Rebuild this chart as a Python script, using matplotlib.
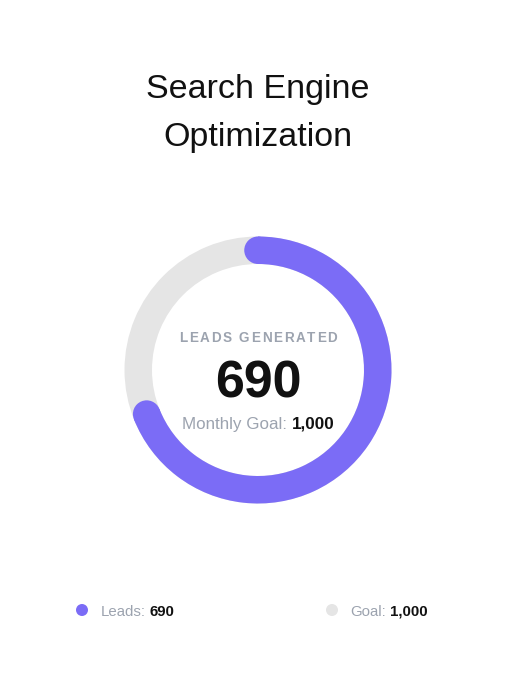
import numpy as np
import matplotlib
matplotlib.use("Agg")
import matplotlib.pyplot as plt
from matplotlib.patches import Wedge, Circle

# ---- data ----
title_lines = ["Search Engine", "Optimization"]
center_label = "LEADS GENERATED"
leads = 690
goal = 1000
legend_labels = ["Leads:", "Goal:"]
legend_values = [leads, goal]

# ---- style ----
PURPLE = "#7B6CF6"
TRACK = "#E5E5E5"
GREY = "#9CA3AF"
BLACK = "#111111"
FONT = "Liberation Sans"

W, H = 516, 686
DPI = 100
fig = plt.figure(figsize=(W / DPI, H / DPI), dpi=DPI)
ax = fig.add_axes([0, 0, 1, 1])
ax.set_xlim(0, W)
ax.set_ylim(0, H)
ax.axis("off")

def Y(y):
    return H - y

def pt(px):
    return px * 72.0 / DPI

renderer = fig.canvas.get_renderer()

def text_width(s, size_px, weight="normal"):
    t = ax.text(0, 0, s, fontsize=pt(size_px), fontweight=weight, family=FONT)
    w = t.get_window_extent(renderer).width
    t.remove()
    return w

def space_width(size_px, weight="normal"):
    return text_width("a a", size_px, weight) - text_width("aa", size_px, weight)

# ---- title ----
for line, base in zip(title_lines, [98, 146]):
    ax.text(W / 2, Y(base), line, ha="center", va="baseline",
            fontsize=pt(34), color=BLACK, family=FONT)

# ---- donut ----
cx, cy = 258, 370
r_out, ring = 133.5, 27.5
ax.add_patch(Wedge((cx, Y(cy)), r_out, 0, 360, width=ring, color=TRACK, lw=0))
sweep = 360.0 * leads / goal
t1, t2 = 90 - sweep, 90
ax.add_patch(Wedge((cx, Y(cy)), r_out, t1, t2, width=ring, color=PURPLE, lw=0))
r_mid = r_out - ring / 2
for ang in (t1, t2):
    a = np.deg2rad(ang)
    ax.add_patch(Circle((cx + r_mid * np.cos(a), Y(cy) + r_mid * np.sin(a)),
                        ring / 2, color=PURPLE, lw=0))

# ---- center texts ----
lab_px, spacing = 13.5, 1.7
widths = []
for ch in center_label:
    if ch == " ":
        widths.append(space_width(lab_px, "bold"))
    else:
        widths.append(text_width(ch, lab_px, "bold"))
total = sum(widths) + spacing * (len(center_label) - 1)
x = cx - total / 2
for ch, w in zip(center_label, widths):
    ax.text(x, Y(342), ch, ha="left", va="baseline", fontsize=pt(lab_px),
            fontweight="bold", color=GREY, family=FONT)
    x += w + spacing

ax.text(cx, Y(397), f"{leads}", ha="center", va="baseline", fontsize=pt(52),
        fontweight="bold", color=BLACK, family=FONT)

mg_px = 17
part1 = "Monthly Goal:"
part2 = f"{goal:,}"
w1 = text_width(part1, mg_px) + space_width(mg_px)
w2 = text_width(part2, mg_px, "bold")
x0 = cx - (w1 + w2) / 2
ax.text(x0, Y(428.5), part1, ha="left", va="baseline", fontsize=pt(mg_px),
        color=GREY, family=FONT)
ax.text(x0 + w1, Y(428.5), part2, ha="left", va="baseline", fontsize=pt(mg_px),
        fontweight="bold", color=BLACK, family=FONT)

# ---- legend ----
lg_px = 15
for lab, val, col, dx in zip(legend_labels, legend_values, [PURPLE, TRACK], [82, 332]):
    ax.add_patch(Circle((dx, Y(610)), 6, color=col, lw=0))
    tx = dx + 18.5
    ax.text(tx, Y(615.5), lab, ha="left", va="baseline", fontsize=pt(lg_px),
            color=GREY, family=FONT)
    wl = text_width(lab, lg_px) + space_width(lg_px)
    ax.text(tx + wl, Y(615.5), f"{val:,}", ha="left", va="baseline",
            fontsize=pt(lg_px), fontweight="bold", color=BLACK, family=FONT)

fig.savefig("out.png", dpi=DPI, facecolor="white")
